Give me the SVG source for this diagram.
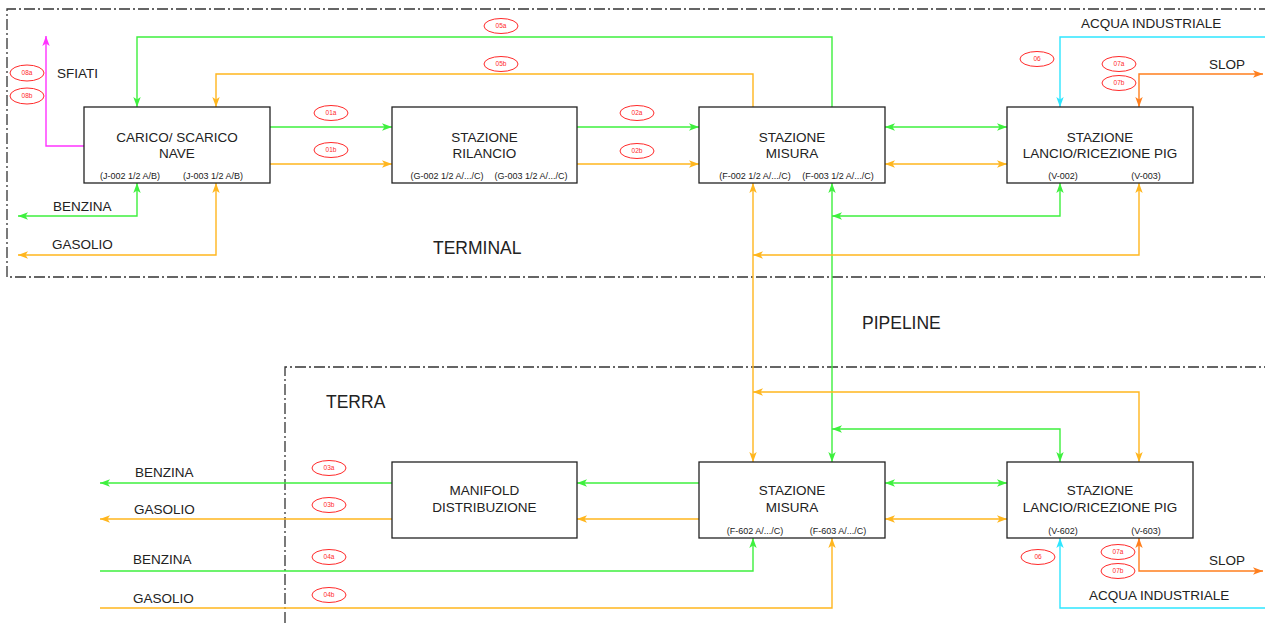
<svg xmlns="http://www.w3.org/2000/svg" width="1265" height="623" viewBox="0 0 1265 623">
<style>
text{font-family:"Liberation Sans",Arial,sans-serif;fill:#222}
.box{fill:#fff;stroke:#222;stroke-width:1.3}
.t{font-size:13.5px;text-anchor:middle}
.s{font-size:9px;text-anchor:middle}
.lb{font-size:13.5px}
.big{font-size:17.5px}
.border{fill:none;stroke:#333;stroke-width:1.3;stroke-dasharray:11,3,2,3}
.c{fill:none;stroke-width:1.4}
.g{stroke:#3ef03e}.o{stroke:#ffb61e}.k{stroke:#ff7f1e}.cy{stroke:#2ee6ff}.m{stroke:#ff33ff}
.tag ellipse{fill:#fff;stroke:#ff2a2a;stroke-width:1}
.tag text{font-size:6.5px;fill:#ff2a2a;text-anchor:middle}
</style>
<defs>
<marker id="ag" markerUnits="userSpaceOnUse" markerWidth="12" markerHeight="9" refX="10" refY="4" orient="auto-start-reverse"><path d="M0,0.3 L10,4 L0,7.7 L2.5,4 z" fill="#3ef03e"/></marker>
<marker id="ao" markerUnits="userSpaceOnUse" markerWidth="12" markerHeight="9" refX="10" refY="4" orient="auto-start-reverse"><path d="M0,0.3 L10,4 L0,7.7 L2.5,4 z" fill="#ffb61e"/></marker>
<marker id="ak" markerUnits="userSpaceOnUse" markerWidth="12" markerHeight="9" refX="10" refY="4" orient="auto-start-reverse"><path d="M0,0.3 L10,4 L0,7.7 L2.5,4 z" fill="#ff7f1e"/></marker>
<marker id="ac" markerUnits="userSpaceOnUse" markerWidth="12" markerHeight="9" refX="10" refY="4" orient="auto-start-reverse"><path d="M0,0.3 L10,4 L0,7.7 L2.5,4 z" fill="#2ee6ff"/></marker>
<marker id="am" markerUnits="userSpaceOnUse" markerWidth="12" markerHeight="9" refX="10" refY="4" orient="auto-start-reverse"><path d="M0,0.3 L10,4 L0,7.7 L2.5,4 z" fill="#ff33ff"/></marker>
</defs>
<rect width="1265" height="623" fill="#fff"/>
<g id="zones">
<path class="border" d="M1270,9 H7 V277 H1270"/>
<path class="border" d="M285,623 V367 H1270"/>
<text class="big" x="433" y="254">TERMINAL</text>
<text class="big" x="862" y="329">PIPELINE</text>
<text class="big" x="326" y="408">TERRA</text>
</g>
<g id="connectors">
<path class="c g" d="M270,127 H392" marker-end="url(#ag)"/>
<path class="c o" d="M270,164 H392" marker-end="url(#ao)"/>
<path class="c g" d="M577,127 H699" marker-end="url(#ag)"/>
<path class="c o" d="M577,164 H699" marker-end="url(#ao)"/>
<path class="c g" d="M832,107 V37 H137 V107" marker-end="url(#ag)"/>
<path class="c o" d="M753,107 V74 H216 V107" marker-end="url(#ao)"/>
<path class="c m" d="M84,146 H46 V36" marker-end="url(#am)"/>
<path class="c g" d="M137,183 V216 H18" marker-start="url(#ag)" marker-end="url(#ag)"/>
<path class="c o" d="M216,183 V255 H18" marker-start="url(#ao)" marker-end="url(#ao)"/>
<path class="c g" d="M885,127 H1007" marker-start="url(#ag)" marker-end="url(#ag)"/>
<path class="c o" d="M885,164 H1007" marker-start="url(#ao)" marker-end="url(#ao)"/>
<path class="c cy" d="M1265,37 H1060 V107" marker-end="url(#ac)"/>
<path class="c k" d="M1139,107 V74 H1263" marker-start="url(#ak)" marker-end="url(#ak)"/>
<path class="c g" d="M832,183 V462" marker-start="url(#ag)" marker-end="url(#ag)"/>
<path class="c o" d="M753,183 V462" marker-start="url(#ao)" marker-end="url(#ao)"/>
<path class="c g" d="M1060,183 V216 H832" marker-start="url(#ag)" marker-end="url(#ag)"/>
<path class="c o" d="M1139,183 V255 H753" marker-start="url(#ao)" marker-end="url(#ao)"/>
<path class="c o" d="M1139,462 V392 H753" marker-start="url(#ao)" marker-end="url(#ao)"/>
<path class="c g" d="M1060,462 V429 H832" marker-start="url(#ag)" marker-end="url(#ag)"/>
<path class="c g" d="M885,483 H1007" marker-start="url(#ag)" marker-end="url(#ag)"/>
<path class="c o" d="M885,519 H1007" marker-start="url(#ao)" marker-end="url(#ao)"/>
<path class="c g" d="M699,483 H577" marker-end="url(#ag)"/>
<path class="c o" d="M699,519 H577" marker-end="url(#ao)"/>
<path class="c g" d="M392,483 H100" marker-end="url(#ag)"/>
<path class="c o" d="M392,519 H100" marker-end="url(#ao)"/>
<path class="c g" d="M100,571 H753 V538" marker-end="url(#ag)"/>
<path class="c o" d="M100,608 H832 V538" marker-end="url(#ao)"/>
<path class="c cy" d="M1265,608 H1060 V538" marker-end="url(#ac)"/>
<path class="c k" d="M1139,538 V571 H1263" marker-start="url(#ak)" marker-end="url(#ak)"/>
</g>
<g id="labels">
<text class="lb" x="57" y="78">SFIATI</text>
<text class="lb" x="53" y="211">BENZINA</text>
<text class="lb" x="52" y="249">GASOLIO</text>
<text class="lb" x="1081" y="28">ACQUA INDUSTRIALE</text>
<text class="lb" x="1209" y="69">SLOP</text>
<text class="lb" x="135" y="477">BENZINA</text>
<text class="lb" x="134" y="514">GASOLIO</text>
<text class="lb" x="133" y="564">BENZINA</text>
<text class="lb" x="133" y="603">GASOLIO</text>
<text class="lb" x="1209" y="565">SLOP</text>
<text class="lb" x="1089" y="600">ACQUA INDUSTRIALE</text>
</g>
<g id="tags" class="tag">
<ellipse cx="27" cy="73" rx="17" ry="8"/><text x="27" y="75">08a</text>
<ellipse cx="27" cy="96" rx="17" ry="8"/><text x="27" y="98">08b</text>
<ellipse cx="501" cy="26" rx="17" ry="7.5"/><text x="501" y="28">05a</text>
<ellipse cx="501" cy="64" rx="17" ry="7.5"/><text x="501" y="66">05b</text>
<ellipse cx="331" cy="113" rx="17" ry="7.5"/><text x="331" y="115">01a</text>
<ellipse cx="331" cy="150" rx="17" ry="7.5"/><text x="331" y="152">01b</text>
<ellipse cx="637" cy="113" rx="17" ry="7.5"/><text x="637" y="115">02a</text>
<ellipse cx="637" cy="151" rx="17" ry="7.5"/><text x="637" y="153">02b</text>
<ellipse cx="1037" cy="59" rx="17" ry="7.5"/><text x="1037" y="61">06</text>
<ellipse cx="1119" cy="64" rx="17" ry="7.5"/><text x="1119" y="66">07a</text>
<ellipse cx="1119" cy="83" rx="17" ry="7.5"/><text x="1119" y="85">07b</text>
<ellipse cx="329" cy="468" rx="17" ry="7.5"/><text x="329" y="470">03a</text>
<ellipse cx="329" cy="505" rx="17" ry="7.5"/><text x="329" y="507">03b</text>
<ellipse cx="329" cy="557" rx="17" ry="7.5"/><text x="329" y="559">04a</text>
<ellipse cx="329" cy="595" rx="17" ry="7.5"/><text x="329" y="597">04b</text>
<ellipse cx="1038" cy="557" rx="17" ry="7.5"/><text x="1038" y="559">06</text>
<ellipse cx="1118" cy="552" rx="17" ry="7.5"/><text x="1118" y="554">07a</text>
<ellipse cx="1118" cy="571" rx="17" ry="7.5"/><text x="1118" y="573">07b</text>
</g>
<g id="n-carico">
<rect class="box" x="84" y="107" width="186" height="76"/>
<text class="t" x="177" y="142">CARICO/ SCARICO</text>
<text class="t" x="177" y="158">NAVE</text>
<text class="s" x="130" y="179">(J-002 1/2 A/B)</text>
<text class="s" x="213" y="179">(J-003 1/2 A/B)</text>
</g>
<g id="n-rilancio">
<rect class="box" x="392" y="107" width="185" height="76"/>
<text class="t" x="484.5" y="142">STAZIONE</text>
<text class="t" x="484.5" y="158">RILANCIO</text>
<text class="s" x="447" y="179">(G-002 1/2 A/.../C)</text>
<text class="s" x="531" y="179">(G-003 1/2 A/.../C)</text>
</g>
<g id="n-misura-t">
<rect class="box" x="699" y="107" width="186" height="76"/>
<text class="t" x="792" y="142">STAZIONE</text>
<text class="t" x="792" y="158">MISURA</text>
<text class="s" x="755" y="179">(F-002 1/2 A/.../C)</text>
<text class="s" x="838" y="179">(F-003 1/2 A/.../C)</text>
</g>
<g id="n-pig-t">
<rect class="box" x="1007" y="107" width="186" height="76"/>
<text class="t" x="1100" y="142">STAZIONE</text>
<text class="t" x="1100" y="158">LANCIO/RICEZIONE PIG</text>
<text class="s" x="1063" y="179">(V-002)</text>
<text class="s" x="1146" y="179">(V-003)</text>
</g>
<g id="n-manifold">
<rect class="box" x="392" y="462" width="185" height="76"/>
<text class="t" x="484.5" y="495">MANIFOLD</text>
<text class="t" x="484.5" y="512">DISTRIBUZIONE</text>
</g>
<g id="n-misura-b">
<rect class="box" x="699" y="462" width="186" height="76"/>
<text class="t" x="792" y="495">STAZIONE</text>
<text class="t" x="792" y="512">MISURA</text>
<text class="s" x="755" y="534">(F-602 A/.../C)</text>
<text class="s" x="838" y="534">(F-603 A/.../C)</text>
</g>
<g id="n-pig-b">
<rect class="box" x="1007" y="462" width="186" height="76"/>
<text class="t" x="1100" y="495">STAZIONE</text>
<text class="t" x="1100" y="512">LANCIO/RICEZIONE PIG</text>
<text class="s" x="1063" y="534">(V-602)</text>
<text class="s" x="1146" y="534">(V-603)</text>
</g>
</svg>
